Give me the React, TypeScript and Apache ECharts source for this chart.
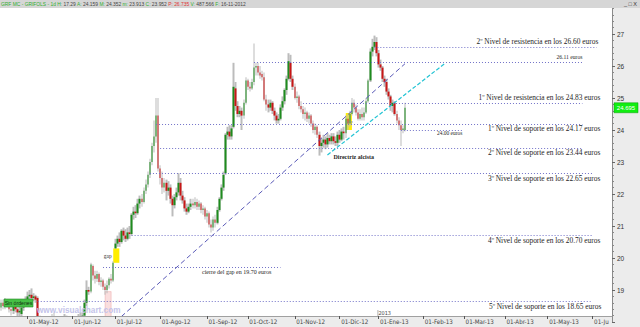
import React, { useEffect, useRef } from "react";
import * as echarts from "echarts";

// ---------- categories (trading days) ----------
const START_DATE = "2012-04-12";
const CATEGORY_COUNT = 300;
const HOLIDAYS = ["2012-05-01", "2012-12-25", "2012-12-26", "2013-01-01", "2013-03-29", "2013-04-01", "2013-05-01"];
const MONTHS_ES = ["Ene", "Feb", "Mar", "Abr", "May", "Jun", "Jul", "Ago", "Sep", "Oct", "Nov", "Dic"];

// ---------- daily OHLC ----------
const OPENS = [
  18.45, 18.6, 18.5, 18.65, 18.55, 18.4, 18.35, 18.5, 18.4, 18.3,
  18.25, 18.45, 18.55, 18.7, 18.8, 18.85, 18.75, 18.8, 18.75, 18.1,
  17.95, 17.85, 17.9, 17.75, 17.85, 18.0, 18.1, 18.0, 17.85, 17.7,
  17.8, 18.05, 17.9, 17.8, 17.7, 17.65, 17.8, 17.95, 17.9, 18.0,
  17.9, 18.2, 18.6, 19.0, 18.95, 19.75, 19.45, 19.35, 19.5, 19.25,
  19.3, 19.1, 19.0, 19.15, 19.35, 19.3, 20.3, 20.45, 20.6, 20.5,
  20.85, 20.7, 20.6, 20.8, 20.75, 21.35, 21.45, 21.4, 21.7, 21.85,
  21.75, 22.1, 22.3, 22.6, 23.0, 23.5, 23.8, 24.45, 22.8, 22.5,
  22.2, 22.35, 22.1, 22.2, 21.85, 21.65, 21.9, 22.05, 22.35, 21.95,
  21.8, 21.55, 21.45, 21.6, 21.7, 21.65, 21.75, 21.6, 21.7, 21.5,
  21.55, 21.3, 21.4, 21.05, 20.95, 21.2, 21.1, 21.5, 21.85, 22.2,
  22.65, 23.85, 23.95, 23.8, 24.1, 25.3, 24.75, 24.5, 24.6, 24.45,
  24.85, 25.55, 25.35, 25.3, 25.5, 25.95, 26.0, 25.8, 25.75, 25.65,
  24.95, 24.8, 24.7, 24.85, 24.6, 24.45, 24.3, 24.35, 24.7, 24.9,
  25.25, 25.6, 26.1, 25.6, 25.35, 25.0, 25.05, 24.75, 24.65, 24.5,
  24.55, 24.35, 24.45, 24.2, 24.0, 24.1, 23.85, 23.5, 23.6, 23.7,
  23.55, 23.75, 23.65, 23.8, 23.65, 23.6, 23.85, 23.7, 23.95, 23.9,
  24.35, 24.2, 24.5, 24.85, 24.7, 24.55, 24.35, 24.5, 24.4, 24.55,
  24.9, 25.55, 26.45, 26.6, 26.75, 26.4, 26.05, 25.95, 25.6, 25.5,
  25.2, 25.05, 24.75, 24.85, 24.5, 24.3, 24.15, 24.0, 24.0,
];
const CLOSES = [
  18.6, 18.5, 18.65, 18.55, 18.4, 18.35, 18.5, 18.4, 18.3, 18.35,
  18.45, 18.55, 18.7, 18.8, 18.85, 18.75, 18.8, 18.7, 18.15, 17.95,
  17.85, 17.9, 17.75, 17.85, 18.0, 18.1, 18.0, 17.85, 17.7, 17.8,
  18.05, 17.9, 17.8, 17.7, 17.65, 17.8, 17.95, 17.9, 18.0, 17.9,
  18.2, 18.6, 19.0, 18.95, 19.8, 19.45, 19.35, 19.5, 19.25, 19.3,
  19.1, 19.0, 19.15, 19.35, 19.3, 19.85, 20.45, 20.6, 20.5, 20.85,
  20.7, 20.6, 20.8, 20.75, 21.35, 21.45, 21.4, 21.7, 21.85, 21.75,
  22.1, 22.3, 22.6, 23.0, 23.5, 23.8, 24.45, 22.8, 22.5, 22.2,
  22.35, 22.1, 22.2, 21.85, 21.65, 21.9, 22.05, 22.35, 21.95, 21.8,
  21.55, 21.45, 21.6, 21.7, 21.65, 21.75, 21.6, 21.7, 21.5, 21.55,
  21.3, 21.4, 21.05, 20.95, 21.2, 21.1, 21.5, 21.85, 22.2, 22.6,
  23.85, 23.95, 23.8, 24.05, 25.35, 24.75, 24.5, 24.6, 24.45, 24.85,
  25.55, 25.35, 25.3, 25.5, 25.95, 26.0, 25.8, 25.7, 25.65, 24.95,
  24.8, 24.7, 24.85, 24.6, 24.45, 24.3, 24.35, 24.7, 24.9, 25.25,
  25.6, 26.15, 25.6, 25.35, 25.0, 25.05, 24.75, 24.65, 24.5, 24.55,
  24.35, 24.45, 24.2, 24.0, 24.1, 23.85, 23.5, 23.6, 23.7, 23.55,
  23.75, 23.65, 23.8, 23.65, 23.6, 23.85, 23.7, 23.95, 23.9, 24.35,
  24.2, 24.5, 24.85, 24.7, 24.55, 24.35, 24.5, 24.4, 24.55, 24.9,
  25.55, 26.45, 26.6, 26.75, 26.4, 26.05, 25.95, 25.6, 25.5, 25.2,
  25.05, 24.75, 24.85, 24.5, 24.3, 24.15, 24.0, 24.05, 24.695,
];
const LOWS = [
  18.35, 18.4, 18.4, 18.45, 18.3, 18.2, 18.25, 18.3, 18.15, 18.15,
  18.15, 18.35, 18.5, 18.6, 18.7, 18.7, 18.65, 18.6, 18.05, 17.8,
  17.7, 17.7, 17.6, 17.6, 17.8, 17.9, 17.9, 17.7, 17.55, 17.6,
  17.75, 17.8, 17.7, 17.55, 17.5, 17.6, 17.7, 17.8, 17.85, 17.7,
  17.8, 18.1, 18.5, 18.85, 18.9, 19.3, 19.2, 19.25, 19.15, 19.1,
  19.0, 18.85, 18.9, 19.05, 19.2, 19.25, 20.3, 20.35, 20.35, 20.45,
  20.55, 20.5, 20.55, 20.6, 20.7, 21.2, 21.25, 21.35, 21.55, 21.6,
  21.7, 22.0, 22.2, 22.5, 22.9, 23.3, 23.6, 22.7, 22.3, 22.0,
  22.05, 21.8, 21.95, 21.7, 21.3, 21.55, 21.8, 21.95, 21.8, 21.7,
  21.45, 21.35, 21.4, 21.5, 21.55, 21.55, 21.5, 21.5, 21.4, 21.35,
  21.2, 21.1, 20.95, 20.8, 20.85, 20.95, 21.05, 21.45, 21.8, 22.1,
  22.6, 23.7, 23.7, 23.7, 24.05, 24.6, 24.4, 24.4, 24.0, 24.35,
  24.8, 25.25, 25.2, 25.25, 25.4, 25.7, 25.7, 25.6, 25.55, 24.9,
  24.6, 24.55, 24.6, 24.5, 24.3, 24.2, 24.2, 24.3, 24.6, 24.8,
  25.1, 25.55, 25.5, 25.25, 24.95, 24.85, 24.65, 24.55, 24.35, 24.3,
  24.25, 24.2, 24.1, 23.9, 23.85, 23.75, 23.2, 23.3, 23.45, 23.4,
  23.45, 23.55, 23.55, 23.55, 23.5, 23.5, 23.6, 23.65, 23.7, 23.75,
  24.0, 24.1, 24.45, 24.55, 24.45, 24.3, 24.3, 24.3, 24.3, 24.5,
  24.85, 25.5, 26.3, 26.5, 26.3, 25.95, 25.85, 25.5, 25.35, 25.1,
  24.95, 24.6, 24.55, 24.45, 24.2, 24.0, 23.5, 23.9, 23.95,
];
const HIGHS = [
  18.7, 18.7, 18.75, 18.7, 18.6, 18.5, 18.6, 18.55, 18.45, 18.5,
  18.55, 18.6, 18.8, 18.95, 19.0, 19.05, 18.9, 18.85, 18.8, 18.2,
  18.05, 18.0, 17.95, 17.95, 18.1, 18.25, 18.3, 18.1, 17.9, 17.95,
  18.15, 18.25, 18.2, 17.9, 17.85, 17.9, 18.05, 18.1, 18.25, 18.3,
  18.3, 18.7, 19.3, 19.1, 19.85, 19.8, 19.6, 19.6, 19.55, 19.4,
  19.35, 19.2, 19.3, 19.4, 19.5, 19.9, 20.6, 20.7, 20.8, 20.9,
  20.95, 20.9, 20.95, 21.0, 21.4, 21.6, 21.65, 21.85, 21.95, 22.0,
  22.2, 22.45, 22.7, 23.1, 23.6, 24.3, 25.0, 25.0, 22.9, 22.7,
  22.5, 22.45, 22.4, 22.3, 21.95, 22.0, 22.2, 22.65, 22.5, 22.1,
  21.9, 21.7, 21.7, 21.85, 21.85, 21.9, 21.85, 21.8, 21.75, 21.65,
  21.6, 21.5, 21.45, 21.2, 21.3, 21.35, 21.6, 21.9, 22.3, 22.7,
  23.9, 24.1, 24.15, 24.15, 26.1, 25.5, 24.9, 24.75, 24.7, 24.95,
  25.65, 25.6, 25.5, 25.6, 26.7, 26.1, 26.1, 26.0, 25.85, 25.8,
  25.1, 24.95, 24.95, 24.9, 24.7, 24.55, 24.5, 24.8, 25.05, 25.3,
  25.7, 26.4, 26.35, 25.7, 25.45, 25.2, 25.1, 24.9, 24.75, 24.7,
  24.6, 24.55, 24.5, 24.3, 24.2, 24.15, 23.95, 23.75, 23.85, 23.8,
  23.9, 23.85, 23.9, 23.9, 23.8, 23.95, 24.0, 24.05, 24.1, 24.45,
  24.5, 24.6, 25.0, 24.95, 24.8, 24.65, 24.65, 24.7, 24.7, 25.0,
  25.6, 26.55, 26.85, 26.95, 26.9, 26.5, 26.2, 26.0, 25.7, 25.6,
  25.3, 25.1, 24.95, 24.9, 24.6, 24.4, 24.3, 24.15, 24.85,
];
const LAST_PRICE = 24.695;

// ---------- horizontal levels ----------
const LEVEL_VALUES = [26.6, 26.11, 24.83, 24.17, 24.0, 23.44, 22.65, 20.7, 19.7, 18.65];
const LEVEL_FROM = [183, 124, 148, 76, 196, 78, 73, 64, 50, 18];
const LEVEL_TO = [292, 285, 285, 285, 226, 285, 290, 290, 137, 289];
const LEVEL_TEXTS = [
  "2º Nivel de resistencia en los 26.60 euros",
  "26.11 euros",
  "1º Nivel de resistencia en los 24.83 euros",
  "1º Nivel de soporte en los 24.17 euros",
  "24.00 euros",
  "2º Nivel de soporte en los 23.44 euros",
  "3º Nivel de soporte en los 22.65 euros",
  "4º Nivel de soporte en los 20.70 euros",
  "cierre del gap en 19.70 euros",
  "5º Nivel de soporte en los 18.65 euros",
];

// ---------- trend lines & zones ----------
const TREND_LONG = [[56, 18.0], [198, 26.07]];
const TREND_CYAN = [[160, 23.22], [218, 26.1]];
const GAP_ZONES = [[55, 58, 19.85, 20.3], [169, 172, 24.0, 24.53]];
const PINK_ZONE = [51, 54, 17.9, 18.95];

const HEADER_PARTS = [
  ["GRF MC - GRIFOLS - 1d", "g"], ["H:", "g"], ["17.29", "d"], ["A:", "g"], ["24.159", "d"],
  ["M:", "g"], ["24.352", "d"], ["m:", "g"], ["23.913", "d"], ["C:", "g"], ["23.952", "d"],
  ["P:", "r"], ["26.735", "r"], ["V:", "g"], ["487.566", "d"], ["F:", "g"], ["16-11-2012", "d"],
];

const SERIF = '"Liberation Serif", "DejaVu Serif", serif';
const NARROW = '"Liberation Sans Narrow", "DejaVu Sans Condensed", "Liberation Sans", sans-serif';
const SANS = '"Liberation Sans", Arial, sans-serif';

function buildDays(): string[] {
  const out: string[] = [];
  const d = new Date(START_DATE + "T00:00:00Z");
  while (out.length < CATEGORY_COUNT) {
    const wd = d.getUTCDay();
    const s = d.toISOString().slice(0, 10);
    if (wd !== 0 && wd !== 6 && HOLIDAYS.indexOf(s) < 0) out.push(s);
    d.setUTCDate(d.getUTCDate() + 1);
  }
  return out;
}

export default function App() {
  const ref = useRef<HTMLDivElement>(null);
  useEffect(() => {
    const el = ref.current!;
    const chart = echarts.init(el, null, { renderer: "svg" });
    const days = buildDays();
    const firstOfMonth = new Set<number>();
    days.forEach((d, i) => {
      if (i > 0 && d.slice(5, 7) !== days[i - 1].slice(5, 7)) firstOfMonth.add(i);
    });
    const rangeData = LOWS.map((l, i) => [l, HIGHS[i], l, HIGHS[i]]);
    const bodyData = OPENS.map((o, i) => [o, CLOSES[i], Math.min(o, CLOSES[i]), Math.max(o, CLOSES[i])]);

    const dotted = { type: [1, 2] as any, color: "#7272c8", width: 1 };
    const markLineData: any[] = LEVEL_VALUES.map((v, k) => [
      { coord: [LEVEL_FROM[k], v], lineStyle: dotted },
      { coord: [LEVEL_TO[k], v] },
    ]);
    markLineData.push([
      { coord: TREND_LONG[0], lineStyle: { type: [5, 3], color: "#5a5ab8", width: 1 } },
      { coord: TREND_LONG[1] },
    ]);
    markLineData.push([
      { coord: TREND_CYAN[0], lineStyle: { type: [4, 2], color: "#22c4d4", width: 1.2 } },
      { coord: TREND_CYAN[1] },
    ]);

    const markAreaData: any[] = GAP_ZONES.map((z) => [
      { coord: [z[0], z[2]], itemStyle: { color: "#ffee00" } },
      { coord: [z[1], z[3]] },
    ]);
    markAreaData.push([
      { coord: [PINK_ZONE[0], PINK_ZONE[2]], itemStyle: { color: "rgba(240,160,160,0.35)", borderColor: "rgba(220,110,110,0.45)", borderWidth: 0.6 } },
      { coord: [PINK_ZONE[1], PINK_ZONE[3]] },
    ]);

    const option: any = {
      animation: false,
      grid: { left: 0, right: 28, top: 2, bottom: 5, show: true, backgroundColor: "#ffffff", borderWidth: 0 },
      xAxis: {
        type: "category",
        data: days,
        boundaryGap: true,
        offset: -6,
        z: 10,
        axisLine: { show: true, lineStyle: { color: "#a0a0a0" } },
        axisTick: {
          show: true, alignWithLabel: true, length: 3,
          interval: (i: number) => firstOfMonth.has(i),
          lineStyle: { color: "#555" },
        },
        axisLabel: {
          show: true,
          interval: (i: number) => firstOfMonth.has(i),
          formatter: (v: string, i: number) => {
            const y = v.slice(2, 4);
            const m = MONTHS_ES[parseInt(v.slice(5, 7), 10) - 1];
            const t = "01-" + m + "-" + y;
            return i > CATEGORY_COUNT - 15 ? t.slice(0, 5) : t;
          },
          fontSize: 6.2, color: "#444", align: "left", margin: 2, padding: [0, 0, 0, 1.5],
          fontFamily: NARROW,
        },
        splitLine: { show: false },
      },
      yAxis: {
        type: "value", position: "right", min: 18, max: 28, interval: 1, z: 10,
        axisLine: { show: true, lineStyle: { color: "#8a8a8a" } },
        axisTick: { show: true, length: 3, lineStyle: { color: "#666" } },
        minorTick: { show: true, splitNumber: 5, length: 2, lineStyle: { color: "#888" } },
        axisLabel: { fontSize: 6.5, color: "#333", margin: 5, showMinLabel: false, showMaxLabel: false, fontFamily: SANS },
        splitLine: { show: false },
      },
      series: [
        {
          type: "candlestick", name: "range", data: rangeData, barWidth: 2, z: 3,
          itemStyle: { color: "#bcbcbc", color0: "#bcbcbc", borderColor: "#bcbcbc", borderColor0: "#bcbcbc", borderWidth: 0 },
          markArea: { silent: true, data: markAreaData, label: { show: false } },
        },
        {
          type: "candlestick", name: "body", data: bodyData, barWidth: 2, z: 4,
          itemStyle: { color: "#1e8c1e", color0: "#c81616", borderColor: "#1e8c1e", borderColor0: "#c81616", borderWidth: 0 },
          markLine: { silent: true, symbol: ["none", "none"], label: { show: false }, data: markLineData },
        },
      ],
    };
    chart.setOption(option);

    const P = (i: number, v: number) => chart.convertToPixel({ gridIndex: 0 }, [i, v]) as number[];
    const g: any[] = [];
    // header
    g.push({ type: "rect", shape: { x: 0, y: 0, width: 640, height: 8 }, style: { fill: "#d6d6d6" }, z: 20 });
    const headerText = HEADER_PARTS.map((p) => "{" + p[1] + "|" + p[0] + "}").join(" ");
    g.push({
      type: "text", z: 21,
      style: {
        text: headerText, x: 1, y: 4, verticalAlign: "middle", fontSize: 4.9, fontFamily: SANS,
        rich: {
          g: { fill: "#2fae2f", fontSize: 4.9, fontFamily: SANS },
          d: { fill: "#444444", fontSize: 4.9, fontFamily: SANS },
          r: { fill: "#e03030", fontSize: 4.9, fontFamily: SANS },
        },
      },
    });
    g.push({ type: "text", z: 21, style: { text: "_ □ X", x: 637, y: 4, align: "right", verticalAlign: "middle", fill: "#333", fontSize: 5.5, fontFamily: SANS } });
    // bottom band
    g.push({ type: "rect", shape: { x: 0, y: 316, width: 612, height: 11 }, style: { fill: "#ececec" }, z: 5 });
    // watermark
    g.push({ type: "text", z: 6, style: { text: "www.visualchart.com", x: 37, y: 310.5, verticalAlign: "middle", fill: "#c4c4ea", fontSize: 8.2, fontWeight: "bold", fontFamily: SANS } });
    // Sin órdenes
    g.push({ type: "rect", z: 6, shape: { x: 4, y: 299, width: 29, height: 8 }, style: { fill: "#46c046", stroke: "#2a8a2a", lineWidth: 0.6 } });
    g.push({ type: "text", z: 7, style: { text: "Sin órdenes", x: 18.5, y: 303, align: "center", verticalAlign: "middle", fill: "#113311", fontSize: 5.2, fontFamily: SANS } });
    // level texts
    const spec = [
      { i: 294, dx: -2.5, dy: -5, size: 7.4, align: "right" },
      { i: 285, dx: 0, dy: -5, size: 5.6, align: "right" },
      { i: 294, dx: -0.5, dy: -6, size: 7.4, align: "right" },
      { i: 294, dx: -0.5, dy: 4, size: 7.4, align: "right" },
      { i: 214, dx: -0.5, dy: 3, size: 5.4, align: "left" },
      { i: 294, dx: -0.5, dy: 4.5, size: 7.4, align: "right" },
      { i: 294, dx: -0.5, dy: 5, size: 7.4, align: "right" },
      { i: 294, dx: -0.5, dy: 5, size: 7.4, align: "right" },
      { i: 99, dx: -1, dy: 4.5, size: 6, align: "left" },
      { i: 294, dx: 0.5, dy: 5, size: 7.4, align: "right" },
    ];
    LEVEL_VALUES.forEach((v, k) => {
      const s = spec[k];
      const p = P(s.i, v);
      g.push({ type: "text", z: 7, style: { text: LEVEL_TEXTS[k], x: p[0] + s.dx, y: p[1] + s.dy, align: s.align, verticalAlign: "middle", fill: "#1e1e1e", fontSize: s.size, fontFamily: SERIF } });
    });
    // Directriz alcista
    const pc = P(TREND_CYAN[0][0], TREND_CYAN[0][1]);
    g.push({ type: "text", z: 7, style: { text: "Directriz alcista", x: pc[0] + 6, y: pc[1] + 2.5, verticalAlign: "middle", fill: "#1e1e1e", fontSize: 6, fontWeight: "bold", fontFamily: SERIF } });
    // gap labels
    const g1 = P(GAP_ZONES[0][0], (GAP_ZONES[0][2] + GAP_ZONES[0][3]) / 2);
    g.push({ type: "text", z: 7, style: { text: "gap", x: g1[0] - 1.5, y: g1[1], align: "right", verticalAlign: "middle", fill: "#333", fontSize: 5.5, fontFamily: SERIF } });
    const g2 = P(GAP_ZONES[1][0], (GAP_ZONES[1][2] + GAP_ZONES[1][3]) / 2);
    g.push({ type: "text", z: 7, style: { text: "gap", x: g2[0] + 0.5, y: g2[1], verticalAlign: "middle", fill: "#888", fontSize: 4.5, fontFamily: SERIF } });
    // 2013 marker
    const pj = P(days.indexOf("2013-01-02"), 18);
    g.push({ type: "line", z: 11, shape: { x1: pj[0] - 0.5, y1: 310, x2: pj[0] - 0.5, y2: 316 }, style: { stroke: "#777", lineWidth: 0.6 } });
    g.push({ type: "text", z: 11, style: { text: "2013", x: pj[0], y: 312.5, verticalAlign: "middle", fill: "#444", fontSize: 5.5, fontFamily: NARROW } });
    // last price tag
    const lp = P(198, LAST_PRICE);
    g.push({ type: "rect", z: 12, shape: { x: 614, y: lp[1] - 5, width: 24, height: 10 }, style: { fill: "#11ee11", stroke: "#0a9a0a", lineWidth: 0.5 } });
    g.push({ type: "text", z: 13, style: { text: "24.695", x: 626, y: lp[1], align: "center", verticalAlign: "middle", fill: "#ffffff", fontSize: 6, fontFamily: SANS } });

    chart.setOption({ graphic: g });
    return () => chart.dispose();
  }, []);
  return <div ref={ref} style={{ position: "fixed", left: 0, top: 0, width: 640, height: 327, background: "#ececec" }} />;
}
